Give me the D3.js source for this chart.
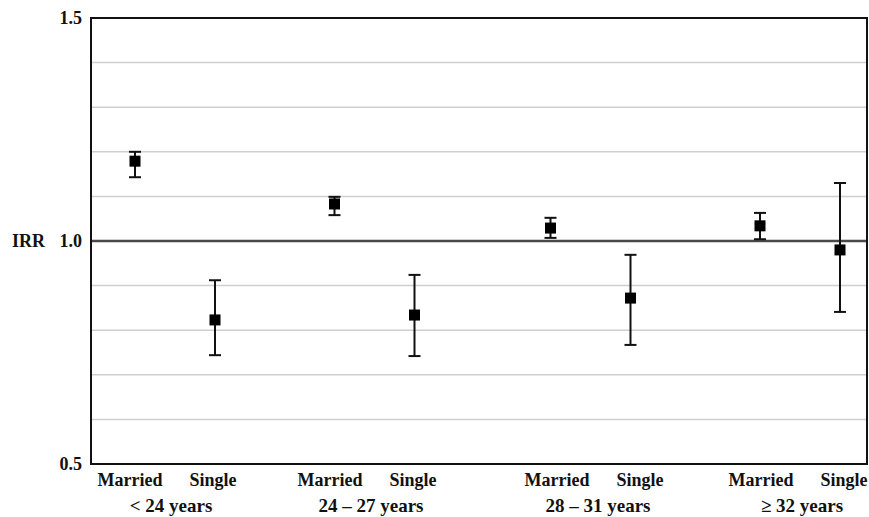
<!DOCTYPE html>
<html lang="en">
<head>
  <meta charset="UTF-8">
  <title>IRR by age and marital status</title>
  <style>
    body { margin: 0; background: #fff; }
    text { font-family: "Liberation Serif", "Times New Roman", serif; font-weight: bold; fill: #111; }
  </style>
</head>
<body>
  <div id="chart"></div>
  <script src="https://d3js.org/d3.v7.min.js"></script>
  <script>
    // age groups and the two points in each
    const groups = ["< 24 years", "24 \u2013 27 years", "28 \u2013 31 years", "\u2265 32 years"];
    const statuses = ["Married", "Single"];

    // estimates and 95% CI, in order: married, single for each group
    const irr   = [1.179, 0.823, 1.083, 0.834, 1.029, 0.872, 1.034, 0.980];
    const lower = [1.143, 0.744, 1.058, 0.742, 1.007, 0.767, 1.004, 0.841];
    const upper = [1.200, 0.912, 1.099, 0.924, 1.052, 0.969, 1.063, 1.130];

    const yTicks = [0.5, 1.0, 1.5];
    const gridVals = [0.6, 0.7, 0.8, 0.9, 1.1, 1.2, 1.3, 1.4];

    const width = 869, height = 517;
    const margin = { top: 18, right: 2, bottom: 53, left: 91 };

    const svg = d3.select("#chart")
      .append("svg")
      .attr("width", width)
      .attr("height", height);

    const y = d3.scaleLinear()
      .domain([0.5, 1.5])
      .range([height - margin.bottom, margin.top]);

    // group centres (uneven in the original), then married/single offset inside each group
    const xg = d3.scaleLinear().domain([0, 1, 2, 3]).range([175, 374.5, 590.5, 800]);
    const xs = d3.scaleOrdinal(statuses, [-40, 40]);
    // label centres sit a little differently from the markers
    const xl = d3.scaleLinear().domain([0, 1, 2, 3]).range([171, 371, 598, 802]);
    const xls = d3.scaleOrdinal(statuses, [-41, 42]);

    const points = irr.map((v, i) => ({
      group: Math.floor(i / 2),
      status: statuses[i % 2],
      v: v, lo: lower[i], hi: upper[i]
    }));
    const px = d => xg(d.group) + xs(d.status);

    // light gridlines
    svg.append("g")
      .selectAll("line")
      .data(gridVals)
      .join("line")
      .attr("x1", margin.left)
      .attr("x2", width - margin.right)
      .attr("y1", d => y(d))
      .attr("y2", d => y(d))
      .attr("stroke", "#cfcfcf")
      .attr("stroke-width", 1.5);

    // reference line at 1.0
    svg.append("line")
      .attr("x1", margin.left)
      .attr("x2", width - margin.right)
      .attr("y1", y(1))
      .attr("y2", y(1))
      .attr("stroke", "#4a4a4a")
      .attr("stroke-width", 2.5);

    // frame
    svg.append("rect")
      .attr("x", margin.left)
      .attr("y", margin.top)
      .attr("width", width - margin.right - margin.left)
      .attr("height", y(0.5) - margin.top)
      .attr("fill", "none")
      .attr("stroke", "#111")
      .attr("stroke-width", 2);

    // y tick labels
    svg.append("g")
      .attr("font-size", 18)
      .attr("text-anchor", "end")
      .selectAll("text")
      .data(yTicks)
      .join("text")
      .attr("x", margin.left - 9)
      .attr("y", d => y(d))
      .attr("dy", "0.35em")
      .text(d => d.toFixed(1));

    svg.append("text")
      .attr("x", 12)
      .attr("y", y(1))
      .attr("dy", "0.35em")
      .attr("font-size", 18)
      .text("IRR");

    // error bars
    const eb = svg.append("g")
      .attr("stroke", "#111")
      .attr("stroke-width", 2);

    eb.selectAll("line.v")
      .data(points)
      .join("line")
      .attr("class", "v")
      .attr("x1", px).attr("x2", px)
      .attr("y1", d => y(d.hi)).attr("y2", d => y(d.lo));

    const capW = 6;
    eb.selectAll("line.top")
      .data(points)
      .join("line")
      .attr("class", "top")
      .attr("x1", d => px(d) - capW).attr("x2", d => px(d) + capW)
      .attr("y1", d => y(d.hi)).attr("y2", d => y(d.hi));

    eb.selectAll("line.bot")
      .data(points)
      .join("line")
      .attr("class", "bot")
      .attr("x1", d => px(d) - capW).attr("x2", d => px(d) + capW)
      .attr("y1", d => y(d.lo)).attr("y2", d => y(d.lo));

    // square markers
    const sz = 11;
    svg.append("g")
      .selectAll("rect")
      .data(points)
      .join("rect")
      .attr("x", d => px(d) - sz / 2)
      .attr("y", d => y(d.v) - sz / 2)
      .attr("width", sz)
      .attr("height", sz)
      .attr("fill", "#000");

    // category labels
    svg.append("g")
      .attr("font-size", 18)
      .attr("text-anchor", "middle")
      .selectAll("text")
      .data(points)
      .join("text")
      .attr("x", d => xl(d.group) + xls(d.status))
      .attr("y", 486)
      .text(d => d.status);

    svg.append("g")
      .attr("font-size", 19)
      .attr("text-anchor", "middle")
      .selectAll("text")
      .data(groups)
      .join("text")
      .attr("x", (d, i) => xl(i))
      .attr("y", 512)
      .text(d => d);
  </script>
</body>
</html>
